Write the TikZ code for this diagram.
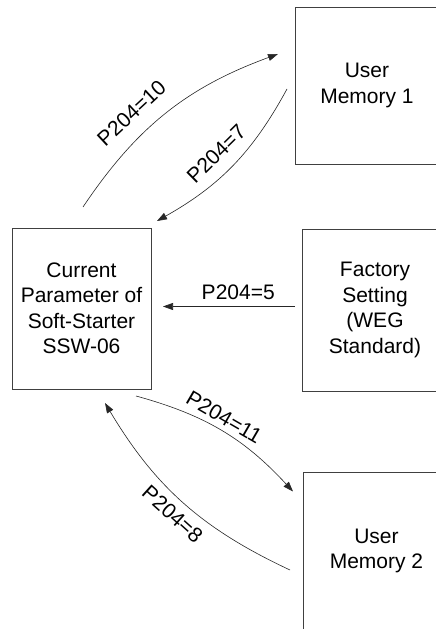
\documentclass[tikz,border=0pt]{standalone}
\usepackage{fontspec}
\setmainfont{Liberation Sans}
\usetikzlibrary{arrows.meta, positioning}

\begin{document}
\begin{tikzpicture}[x=1pt, y=1pt]
    \tikzset{
        box/.style={rectangle, draw=black!75, line width=0.8pt, align=center, inner sep=0pt, font=\fontsize{21}{25.5}\selectfont},
        arrow/.style={draw=black!85, line width=0.6pt, -{Triangle[length=10pt, width=7pt]}},
        lbl/.style={font=\fontsize{21}{24}\selectfont, inner sep=5pt}
    }
    \useasboundingbox (0,0) rectangle (436,629);
    \clip (0,0) rectangle (436,629);

    \node [box, minimum width=139pt, minimum height=161pt] (current) at (81.5,320.5) {Current\\Parameter of\\Soft-Starter\\SSW-06};
    \node [box, minimum width=144pt, minimum height=157pt] (mem1) at (367,543.5) {User\\Memory 1};
    \node [box, minimum width=146pt, minimum height=162pt] (factory) at (375,319) {Factory\\Setting\\(WEG\\Standard)};
    \node [box, minimum width=147pt, minimum height=158pt] (mem2) at (376.5,78) {User\\Memory 2};

    % free ends of the connectors
    \coordinate (curtop) at (83,422);
    \coordinate (mem1in) at (278,575);
    \coordinate (mem1out) at (287,540);
    \coordinate (curin1) at (157,408);
    \coordinate (facout) at (295,322.5);
    \coordinate (curin2) at (163,322.5);
    \coordinate (curbot) at (136,233);
    \coordinate (mem2in) at (293,137.5);
    \coordinate (mem2out) at (290,59);
    \coordinate (curin3) at (105,226);

    \draw [arrow] (curtop) to[bend left=18] node[lbl, inner sep=15pt, pos=0.39, sloped, above]{P204=10} (mem1in);
    \draw [arrow] (mem1out) to[bend left=16] node[lbl, inner sep=12pt, pos=0.52, sloped, above]{P204=7} (curin1);
    \draw [arrow] (facout) -- node[lbl, inner sep=6pt, pos=0.43, above]{P204=5} (curin2);
    \draw [arrow] (curbot) to[bend left=16] node[lbl, pos=0.47, sloped, above]{P204=11} (mem2in);
    \draw [arrow] (mem2out) to[bend left=17] node[lbl, inner sep=8pt, pos=0.5, sloped, below]{P204=8} (curin3);
\end{tikzpicture}
\end{document}
